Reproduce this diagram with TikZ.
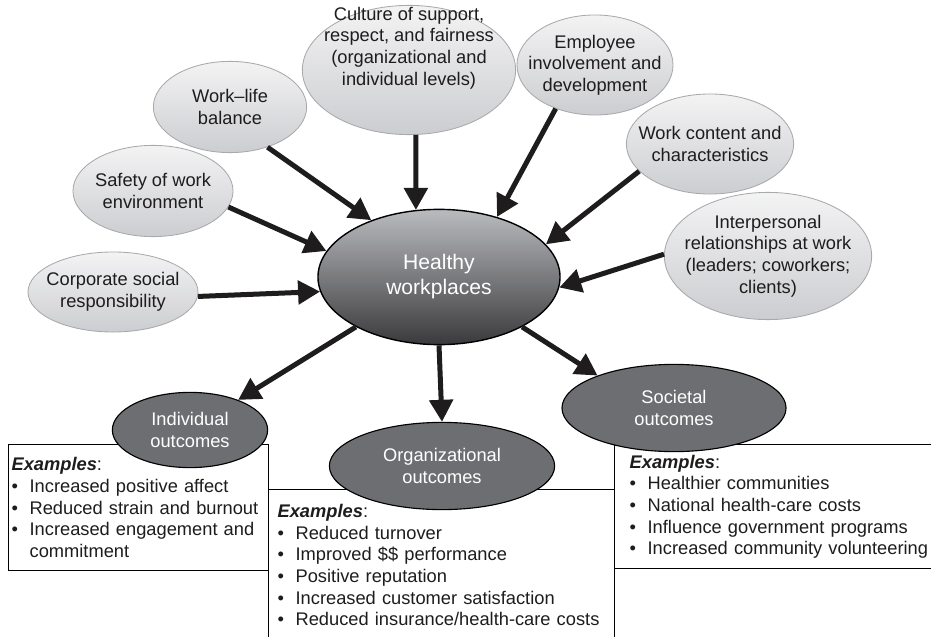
\documentclass[tikz,border=0pt]{standalone}
\usepackage{fontspec}
\setmainfont{Liberation Sans}
\usetikzlibrary{shapes.geometric, arrows.meta}

\definecolor{lightTop}{RGB}{243,243,244}
\definecolor{lightBot}{RGB}{204,205,208}
\definecolor{lightEdge}{RGB}{168,169,171}
\definecolor{hubTop}{RGB}{186,187,191}
\definecolor{hubBot}{RGB}{58,58,60}
\definecolor{outGray}{RGB}{109,110,113}
\definecolor{inkBlack}{RGB}{30,28,29}

% bullet with fixed indent
\newcommand{\exitem}{\makebox[0.45cm][l]{\textbullet}}

\begin{document}
\begin{tikzpicture}[
    x=0.025cm, y=-0.025cm, % one unit = one pixel of the sketch
    % Styles
    factor/.style={ % Light input ellipses
        ellipse,
        draw=lightEdge,
        line width=0.6pt,
        top color=lightTop,
        bottom color=lightBot,
        text=inkBlack,
        align=center,
        inner xsep=-0.35cm,
        inner ysep=0pt,
        font=\fontsize{13}{15.4}\selectfont
    },
    hub/.style={ % Central ellipse
        ellipse,
        draw=black,
        line width=1pt,
        top color=hubTop,
        bottom color=hubBot,
        text=white,
        align=center,
        inner sep=0pt,
        font=\fontsize{15}{17.8}\selectfont
    },
    outcome/.style={ % Dark outcome ellipses
        ellipse,
        draw=black,
        line width=0.8pt,
        fill=outGray,
        text=white,
        align=center,
        inner sep=0pt,
        font=\fontsize{13}{15.4}\selectfont
    },
    exbox/.style={ % Boxes with examples
        rectangle,
        draw=black,
        line width=0.9pt,
        anchor=north west,
        align=left,
        text=inkBlack,
        font=\fontsize{13}{15.4}\selectfont
    },
    arrow/.style={
        line width=0.125cm,
        draw=inkBlack,
        -{Triangle[length=0.55cm, width=0.58cm]}
    }
]
    \useasboundingbox (0,0) rectangle (931,636);
    \clip (0,0) rectangle (931,636);

    % Example boxes (drawn first, ellipses sit on top)
    \node[exbox, text width=6.35cm, inner xsep=0.075cm, minimum height=3.15cm] (indbox) at (8,444) {%
        \textbf{\textit{Examples}}:\\
        \exitem Increased positive affect\\
        \exitem Reduced strain and burnout\\
        \exitem Increased engagement and\\
        \hspace*{0.45cm}commitment};
    \node[exbox, text width=8.2cm, inner xsep=0.225cm, minimum height=3.78cm] (orgbox) at (268,489) {%
        \textbf{\textit{Examples}}:\\
        \exitem Reduced turnover\\
        \exitem Improved \$\$ performance\\
        \exitem Positive reputation\\
        \exitem Increased customer satisfaction\\
        \exitem Reduced insurance/health-care costs};
    \node[exbox, text width=8.1cm, inner xsep=0.375cm, minimum height=3.1cm] (socbox) at (614,444) {%
        \textbf{\textit{Examples}}:\\
        \exitem Healthier communities\\
        \exitem National health-care costs\\
        \exitem Influence government programs\\
        \exitem Increased community volunteering};

    % Input factors (culture text sits high in its ellipse)
    \node[factor, minimum width=5.33cm, minimum height=3.23cm, text depth=1.2cm, inner ysep=-0.45cm] (culture) at (409,70)
        {Culture of support,\\respect, and fairness\\(organizational and\\individual levels)};
    \node[factor, minimum width=3.9cm, minimum height=2.5cm] (employee) at (595,65)
        {Employee\\involvement and\\development};
    \node[factor, minimum width=3.83cm, minimum height=2.28cm] (worklife) at (230,107)
        {Work–life\\balance};
    \node[factor, minimum width=4cm, minimum height=2.28cm] (safety) at (153,191)
        {Safety of work\\environment};
    \node[factor, minimum width=4.25cm, minimum height=2cm] (corporate) at (113,292)
        {Corporate social\\responsibility};
    \node[factor, minimum width=4.18cm, minimum height=2.5cm] (content) at (710,144)
        {Work content and\\characteristics};
    \node[factor, minimum width=5.18cm, minimum height=3.18cm] (relations) at (768,256)
        {Interpersonal\\relationships at work\\(leaders; coworkers;\\clients)};

    % Hub
    \node[hub, minimum width=6.05cm, minimum height=3.38cm] (hub) at (439,277) {Healthy\\workplaces};

    % Outcomes
    \node[outcome, minimum width=3.88cm, minimum height=1.88cm] (individual) at (190,430) {Individual\\outcomes};
    \node[outcome, minimum width=5.63cm, minimum height=2.18cm] (organizational) at (442,466) {Organizational\\outcomes};
    \node[outcome, minimum width=5.6cm, minimum height=2.18cm] (societal) at (674,408) {Societal\\outcomes};

    % Arrows into the hub
    \foreach \src/\a/\b in {worklife/-47/140, safety/-12/167, corporate/-3/187,
                            culture/-84/109, employee/-132/46, content/-159/17, relations/179/-5}
        \draw[arrow] (\src.\a) -- (hub.\b);

    % Arrows out of the hub
    \draw[arrow] (hub.-149) -- (individual.32);
    \draw[arrow] (hub.-90) -- (organizational.90);
    \draw[arrow] (hub.-31) -- (societal.157);
\end{tikzpicture}
\end{document}
